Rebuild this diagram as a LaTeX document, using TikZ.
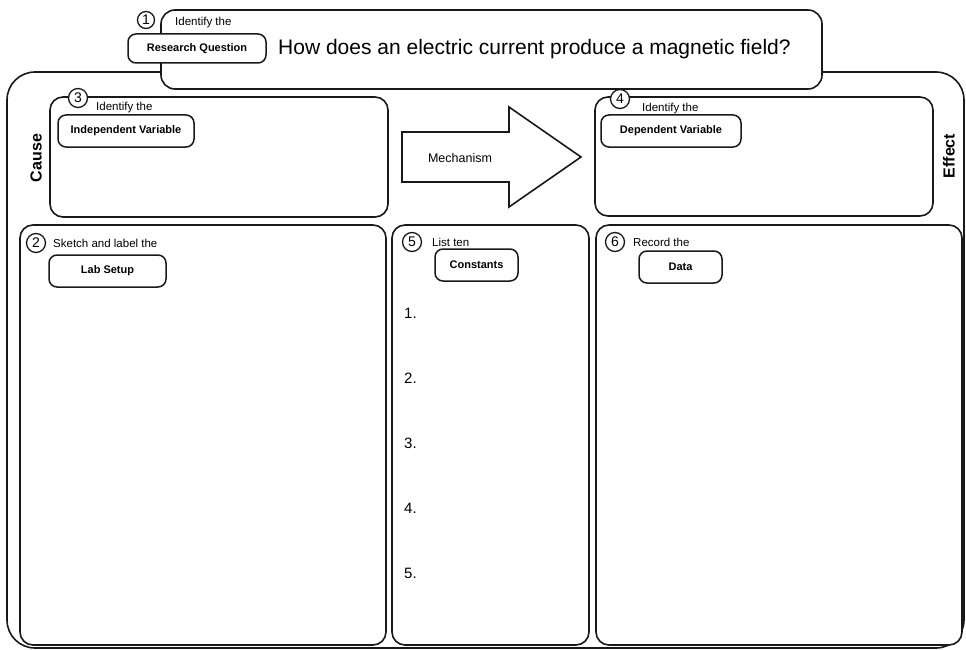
\documentclass[tikz,border=0pt]{standalone}
\usepackage{fontspec}
\setmainfont{Liberation Sans}
\begin{document}
\begin{tikzpicture}[x=1pt,y=-1pt,
  panel/.style={draw=black!90, line width=1.6pt, rounded corners=13pt, fill=white},
  tag/.style={draw=black!90, line width=1.5pt, rounded corners=8pt, fill=white,
    font=\fontsize{11}{13}\selectfont\bfseries, inner sep=0pt},
  num/.style={circle, draw=black!90, line width=1.3pt, fill=white, minimum size=19pt,
    inner sep=0pt, font=\fontsize{14}{14}\selectfont},
  lbl/.style={anchor=west, font=\fontsize{11.5}{13}\selectfont, inner sep=0pt},
  item/.style={anchor=west, font=\fontsize{15}{15}\selectfont, inner sep=0pt},
  side/.style={rotate=90, font=\fontsize{16}{16}\selectfont\bfseries, inner sep=0pt}]
\useasboundingbox (0,0) rectangle (966,650);
% outer frame
\draw[panel, rounded corners=28pt] (7,72) rectangle (964,648);
% research question panel
\draw[panel, rounded corners=14pt] (161,10) rectangle (822,89);
\node[num, minimum size=17pt] (n1) at (146,20) {1};
\node[lbl] (id1) at (175,23) {Identify the};
\node[tag, minimum width=138pt, minimum height=29pt] (rq) at (197,48.5) {Research Question};
\node[anchor=west, inner sep=0pt, font=\fontsize{21}{21}\selectfont] (q) at (278,49)
  {How does an electric current produce a magnetic field?};
% cause / effect labels
\node[side] (cause) at (36,158) {Cause};
\node[side] (effect) at (949,156) {Effect};
% box 3
\draw[panel] (50,97) rectangle (388,217);
\node[num] (n3) at (78,98) {3};
\node[lbl] (id3) at (96,108) {Identify the};
\node[tag, minimum width=136pt, minimum height=32pt] (iv) at (126,131) {Independent Variable};
% mechanism arrow
\draw[draw=black!90, line width=1.6pt, fill=white, line join=miter]
  (402,132) -- (509,132) -- (509,107) -- (581,157) -- (509,207) -- (509,182) -- (402,182) -- cycle;
\node[inner sep=0pt, font=\fontsize{12.5}{13}\selectfont] (mech) at (460,158) {Mechanism};
% box 4
\draw[panel] (595,97) rectangle (933,216);
\node[num] (n4) at (620,99) {4};
\node[lbl] (id4) at (642,109) {Identify the};
\node[tag, minimum width=140pt, minimum height=32pt] (dv) at (671,131) {Dependent Variable};
% box 2
\draw[panel] (20,225) rectangle (386,645);
\node[num] (n2) at (36,243) {2};
\node[lbl] (sk) at (53,243) {Sketch and label the};
\node[tag, minimum width=117pt, minimum height=32pt] (lab) at (107.5,271) {Lab Setup};
% box 5
\draw[panel] (392,225) rectangle (589,645);
\node[num] (n5) at (412,242) {5};
\node[lbl] (lt) at (432,242) {List ten};
\node[tag, minimum width=83pt, minimum height=32pt] (const) at (476.5,265) {Constants};
\node[item] (i1) at (404,313) {1.};
\node[item] (i2) at (404,378) {2.};
\node[item] (i3) at (404,443) {3.};
\node[item] (i4) at (404,508) {4.};
\node[item] (i5) at (404,573) {5.};
% box 6
\draw[panel] (596,225) rectangle (962,645);
\node[num] (n6) at (615,242) {6};
\node[lbl] (rec) at (633,242) {Record the};
\node[tag, minimum width=83pt, minimum height=32pt] (data) at (680.5,267) {Data};
\end{tikzpicture}
\end{document}
